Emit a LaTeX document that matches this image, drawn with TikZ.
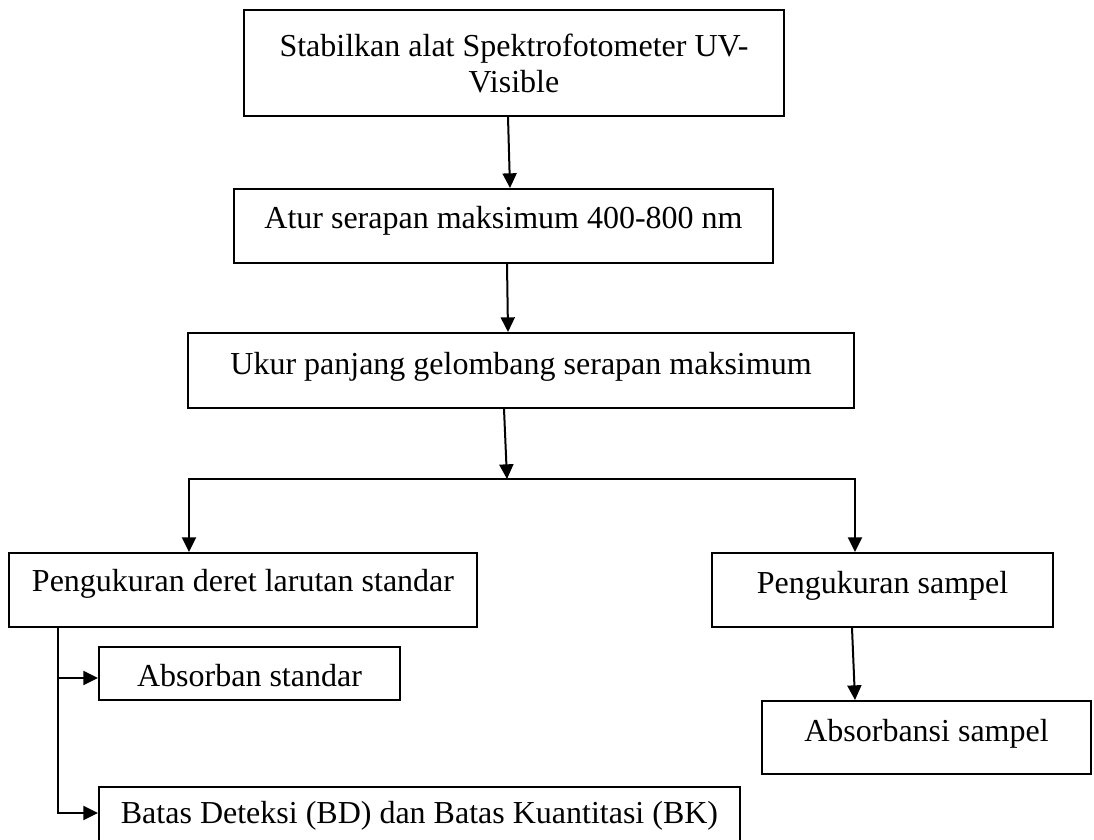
\documentclass[tikz,border=0pt]{standalone}
\usepackage{fontspec}
\setmainfont{Liberation Serif}
\usetikzlibrary{arrows.meta}
\begin{document}
\begin{tikzpicture}[x=0.75pt,y=-0.75pt,
  every node/.style={font=\fontsize{24pt}{27pt}\selectfont},
  boxnode/.style={draw,line width=1.5pt,inner sep=0pt,anchor=north,align=center},
  ln/.style={line width=1.5pt},
  arr/.style={line width=1.5pt,-{Triangle[width=10.5pt,length=11pt]}}]
\useasboundingbox (0,0) rectangle (1094,839);
\fill[white] (0,0) rectangle (1094,839);
\clip (0,0) rectangle (1094,839);
% boxes
\node[draw,line width=1.5pt,inner sep=0pt,align=center,minimum width=405pt,minimum height=79.5pt] (box1) at (514,63) {Stabilkan alat Spektrofotometer UV-\\Visible};
\node[boxnode,minimum width=404.25pt,text height=29.25pt,text depth=26.25pt] (box2) at (503.5,188) {Atur serapan maksimum 400-800 nm};
\node[boxnode,minimum width=499.5pt,text height=30.75pt,text depth=25.5pt] (box3) at (521,332) {Ukur panjang gelombang serapan maksimum};
\node[boxnode,minimum width=351pt,text height=28.5pt,text depth=27pt] (box4) at (243,552) {Pengukuran deret larutan standar};
\node[boxnode,minimum width=255.75pt,text height=30pt,text depth=25.5pt] (box5) at (882.5,552) {Pengukuran sampel};
\node[boxnode,minimum width=225.75pt,text height=29.25pt,text depth=10.5pt] (absstd) at (249.5,646) {Absorban standar};
\node[boxnode,minimum width=246.75pt,text height=30pt,text depth=24.75pt] (abss) at (926.5,700) {Absorbansi sampel};
\node[boxnode,minimum width=480.75pt,text height=27pt,text depth=28.5pt] (batas) at (419.5,786) {Batas Deteksi (BD) dan Batas Kuantitasi (BK)};
% coordinates
\coordinate (bl) at (189,479);
\coordinate (brr) at (855,479);
\coordinate (split) at (507,479);
\coordinate (t1) at (58,678);
\coordinate (t2) at (58,813);
% connectors
\draw[arr] (box1.south -| 508,0) -- (box2.north -| 510,0);
\draw[arr] (box2.south -| 507,0) -- (box3.north -| 508,0);
\draw[arr] (box3.south -| 504,0) -- (split);
\draw[arr] (bl) -- (brr) -- (box5.north -| brr);
\draw[arr] (brr) -- (bl) -- (box4.north -| bl);
\draw[arr] (box4.south -| t1) -- (t2) -- (batas.west |- t2);
\draw[arr] (t1) -- (absstd.west |- t1);
\draw[arr] (box5.south -| 852,0) -- (abss.north -| 855,0);
\end{tikzpicture}
\end{document}
